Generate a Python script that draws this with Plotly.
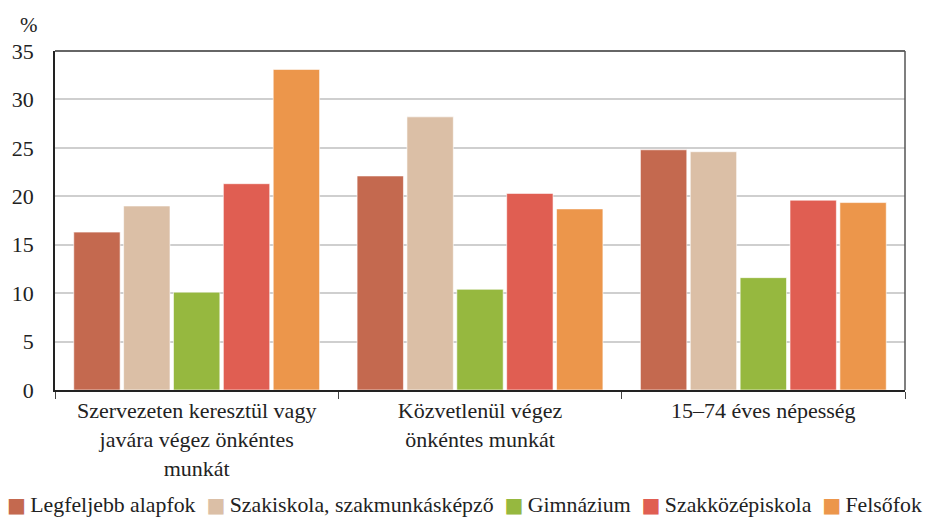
import plotly.graph_objects as go

categories = [
    "Szervezeten keresztül vagy<br>javára végez önkéntes<br>munkát",
    "Közvetlenül végez<br>önkéntes munkát",
    "15–74 éves népesség",
]
series_names = [
    "Legfeljebb alapfok",
    "Szakiskola, szakmunkásképző",
    "Gimnázium",
    "Szakközépiskola",
    "Felsőfok",
]
legfeljebb_alapfok = [16.3, 22.1, 24.8]
szakiskola = [19.0, 28.2, 24.6]
gimnazium = [10.1, 10.4, 11.6]
szakkozepiskola = [21.3, 20.3, 19.6]
felsofok = [33.1, 18.7, 19.35]
series_values = [legfeljebb_alapfok, szakiskola, gimnazium, szakkozepiskola, felsofok]
colors = ["#C4694F", "#DBBFA6", "#96B83F", "#E05E52", "#EC964B"]
y_ticks = [0, 5, 10, 15, 20, 25, 30, 35]

FONT = "Liberation Serif"

fig = go.Figure()
for name, vals, col in zip(series_names, series_values, colors):
    fig.add_trace(go.Bar(
        x=categories, y=vals, name=name, showlegend=False,
        marker=dict(color=col, line=dict(color="rgba(255,255,255,0.6)", width=1)),
    ))

# legend built as one centred line of text from the series names and colours
legend_text = "\u00a0\u00a0".join(
    f"<span style='color:{c};font-size:20px;font-family:DejaVu Sans'>■</span>\u2009{n}"
    for n, c in zip(series_names, colors)
)

# page body has an 8px margin, compensate in the figure margins
fig.update_layout(
    width=933, height=517,
    margin=dict(l=47, r=36, t=43, b=135),
    paper_bgcolor="white", plot_bgcolor="white",
    barmode="group", bargap=0.12, bargroupgap=0.07,
    font=dict(family=FONT, size=22, color="#222"),
    showlegend=False,
    xaxis=dict(
        showline=True, linecolor="#222", linewidth=2,
        mirror=False, ticks="outside", tickson="boundaries",
        ticklen=7, tickcolor="#444", tickwidth=1,
        tickfont=dict(family=FONT, size=22, color="#222"),
        showgrid=False, automargin=False,
    ),
    yaxis=dict(
        range=[0, 35], tickvals=y_ticks,
        showline=True, linecolor="#222", linewidth=1.5,
        showgrid=True, gridcolor="#CFCFCF", gridwidth=1.5,
        ticks="", ticklabelstandoff=15,
        tickfont=dict(family=FONT, size=22, color="#222"),
        zeroline=False, automargin=False,
    ),
    shapes=[
        dict(type="line", xref="paper", yref="paper", x0=0, x1=1, y0=1, y1=1,
             line=dict(color="#333", width=1.5)),
        dict(type="line", xref="paper", yref="paper", x0=1, x1=1, y0=0, y1=1,
             line=dict(color="#555", width=1.5)),
    ],
    annotations=[
        dict(text="%", xref="paper", yref="paper", x=-0.031, y=1.0, yshift=26,
             xanchor="center", yanchor="middle", showarrow=False,
             font=dict(family=FONT, size=21, color="#222")),
        dict(text=legend_text, xref="paper", yref="paper", x=0.482, y=0, yshift=-115,
             xanchor="center", yanchor="middle", showarrow=False,
             font=dict(family=FONT, size=21.8, color="#222")),
    ],
)

fig.write_html("out.html")
